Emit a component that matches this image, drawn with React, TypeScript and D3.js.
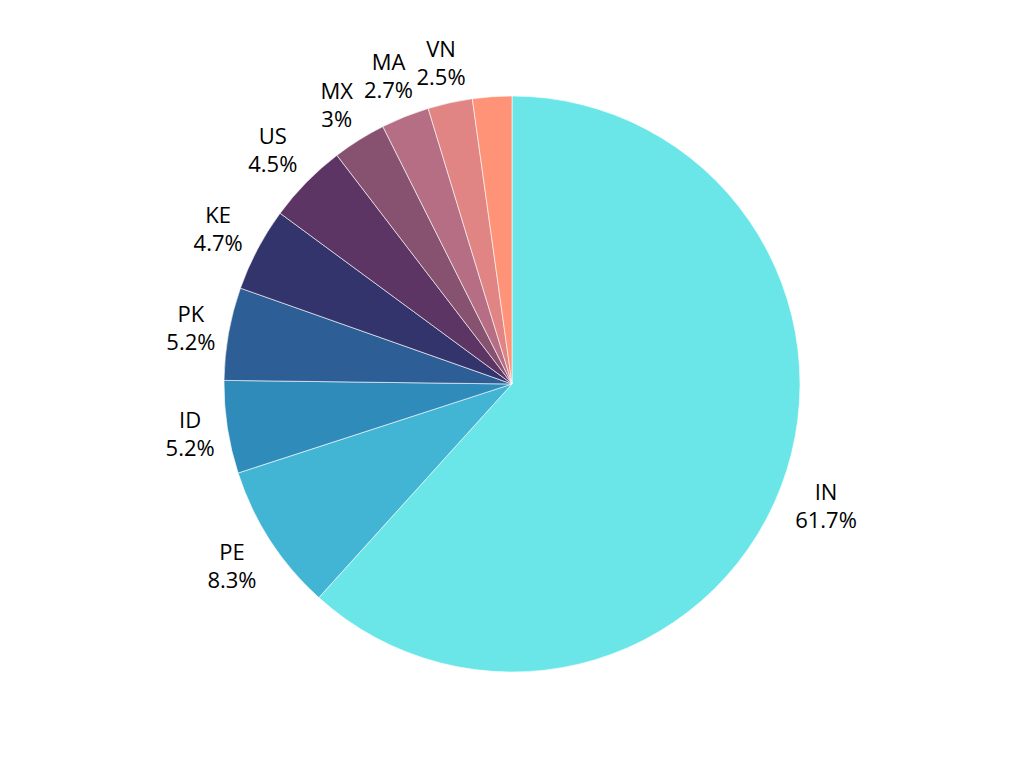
import * as d3 from 'd3';
import React, { useRef, useEffect } from 'react';

const countries = ['IN', 'PE', 'ID', 'PK', 'KE', 'US', 'MX', 'MA', 'VN', ''];
const shares = [61.7, 8.3, 5.2, 5.2, 4.7, 4.5, 3.0, 2.7, 2.5, 2.2];
const shareLabels = ['61.7%', '8.3%', '5.2%', '5.2%', '4.7%', '4.5%', '3%', '2.7%', '2.5%', ''];
const colors = ['#6ae5e8', '#42b4d4', '#2e8bba', '#2e5e96', '#33346c', '#5d3564', '#875270', '#b56e84', '#e08484', '#ff9377'];

interface Slice {
  name: string;
  value: number;
  label: string;
  color: string;
}

const App: React.FC = () => {
  const ref = useRef<HTMLDivElement>(null);

  useEffect(() => {
    if (!ref.current) return;
    ref.current.innerHTML = '';

    const width = 1024;
    const height = 768;
    const radius = 288;
    const gap = 10; // distance from pie edge to nearest corner of the label box
    const lineGap = 28;

    const data: Slice[] = countries.map((c, i) => ({
      name: c,
      value: shares[i],
      label: shareLabels[i],
      color: colors[i],
    }));

    const pie = d3.pie<Slice>().value(d => d.value).sort(null);
    const arc = d3.arc<d3.PieArcDatum<Slice>>().innerRadius(0).outerRadius(radius);

    const svg = d3.select(ref.current)
      .append('svg')
      .attr('width', width)
      .attr('height', height)
      .style('display', 'block');

    svg.append('rect').attr('width', width).attr('height', height).attr('fill', '#ffffff');

    const g = svg.append('g').attr('transform', `translate(512,384)`);
    const arcs = pie(data);

    g.selectAll('path')
      .data(arcs)
      .enter()
      .append('path')
      .attr('d', arc)
      .attr('fill', d => d.data.color)
      .attr('stroke', '#ffffff')
      .attr('stroke-width', 0.6);

    const labels = g.selectAll('.lbl')
      .data(arcs.filter(d => d.data.name !== ''))
      .enter()
      .append('text')
      .classed('lbl', true)
      .attr('text-anchor', 'middle')
      .attr('font-family', '"Open Sans", sans-serif')
      .attr('font-size', 22)
      .attr('fill', '#000000');

    labels.append('tspan')
      .attr('x', 0)
      .attr('y', -lineGap / 2)
      .attr('dominant-baseline', 'central')
      .text(d => d.data.name);

    labels.append('tspan')
      .attr('x', 0)
      .attr('y', lineGap / 2)
      .attr('dominant-baseline', 'central')
      .text(d => d.data.label);

    // push each label box outward until its nearest corner sits just outside the pie
    labels.attr('transform', function (d) {
      const box = (this as SVGTextElement).getBBox();
      const w = box.width;
      const h = lineGap * 2;
      const mid = (d.startAngle + d.endAngle) / 2;
      const ux = Math.sin(mid);
      const uy = -Math.cos(mid);
      const cx = Math.sign(ux) * w / 2;
      const cy = Math.sign(uy) * h / 2;
      const R = radius + gap;
      const dot = ux * cx + uy * cy;
      const t = dot + Math.sqrt(dot * dot - (cx * cx + cy * cy) + R * R);
      return `translate(${t * ux},${t * uy})`;
    });
  }, []);

  return <div ref={ref} style={{ margin: -8 }} />;
};

export default App;
